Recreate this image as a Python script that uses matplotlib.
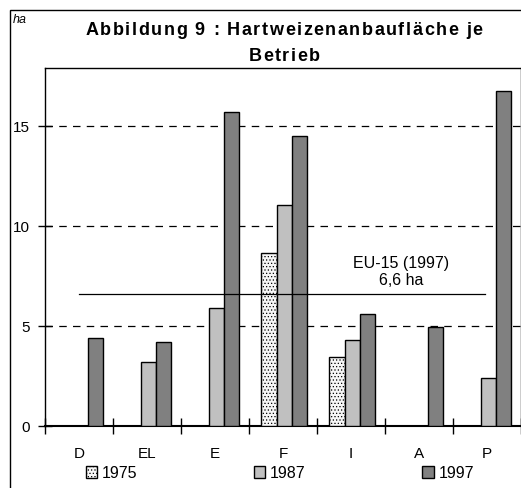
import matplotlib.pyplot as plt
import numpy as np
from matplotlib.patches import Rectangle
from matplotlib.font_manager import FontProperties

plt.rcParams['font.family'] = ['Liberation Sans', 'DejaVu Sans']
plt.rcParams['hatch.color'] = '#d0d0d0'
plt.rcParams['hatch.linewidth'] = 0.5

# data (ha per holding)
countries = ['D', 'EL', 'E', 'F', 'I', 'A', 'P']
years = ['1975', '1987', '1997']
vals_1975 = [0, 0, 0, 8.65, 3.45, 0, 0]
vals_1987 = [0, 3.18, 5.9, 11.07, 4.28, 0, 2.4]
vals_1997 = [4.42, 4.22, 15.7, 14.5, 5.62, 4.93, 16.77]
eu_avg = 6.6
title_lines = ['Abbildung 9 : Hartweizenanbaufläche je', 'Betrieb']

W, H = 521, 488
fig = plt.figure(figsize=(W / 100, H / 100), dpi=100)
ax = fig.add_axes([45 / W, 62 / H, 476 / W, 358 / H])

# outer frame of the figure
fig.patches.append(Rectangle((10 / W, -0.1), 1.2, 1.1 - 10 / H, transform=fig.transFigure,
                             fill=False, edgecolor='black', linewidth=1))

x = np.arange(len(countries))
w = 0.225
shift = 0.02
styles = [dict(color='#f6f6f6', hatch='.....'), dict(color='#c0c0c0'), dict(color='#808080')]
series = [vals_1975, vals_1987, vals_1997]
for i, (vals, st, yr) in enumerate(zip(series, styles, years)):
    vals = np.array(vals, dtype=float)
    mask = vals > 0
    ax.bar(x[mask] + (i - 1) * w + shift, vals[mask], width=w, facecolor=st['color'],
           hatch=st.get('hatch'), edgecolor='black', linewidth=1, label=yr, zorder=3)

ax.set_xlim(-0.5, 6.5)
ax.set_ylim(0, 17.9)
ax.set_yticks([0, 5, 10, 15])
ax.set_yticklabels(['0', '5', '10', '15'], fontsize=11)
for yv in [5, 10, 15]:
    ax.axhline(yv, color='black', linestyle=(0, (6, 5)), linewidth=0.9, zorder=1)

ax.set_xticks(x)
ax.set_xticklabels(countries, fontsize=11)
ax.set_xticks(np.arange(-0.5, 7, 1), minor=True)
ax.tick_params(axis='x', which='major', length=0, pad=15)
ax.tick_params(axis='x', which='minor', length=12, direction='inout', width=1)
ax.tick_params(axis='y', length=10, width=1, direction='inout', pad=6)

for s in ['left', 'top', 'right', 'bottom']:
    ax.spines[s].set_linewidth(1)
ax.spines['bottom'].set_linewidth(1.5)

# EU-15 average line
ax.plot([0.0, 5.97], [eu_avg, eu_avg], color='black', linewidth=0.9, zorder=4)
ax.text(4.74, eu_avg + 0.3, 'EU-15 (1997)\n6,6 ha', ha='center', va='bottom', fontsize=11.5,
        linespacing=1.15, zorder=5)

# title with wide letter spacing, like the original
tsize = 13
tprop = FontProperties(family='Liberation Sans', weight='bold', size=tsize)
renderer = fig.canvas.get_renderer()


def width(s):
    return renderer.get_text_width_height_descent(s, tprop, ismath=False)[0]


def advances(s):
    base = width('xx')
    return [width('x' + c + 'x') - base for c in s]


adv1 = advances(title_lines[0])
gap = (397 - sum(adv1)) / (len(title_lines[0]) - 1)
for line, base in zip(title_lines, [35, 61]):
    adv = advances(line)
    total = sum(adv) + gap * (len(line) - 1)
    xp = 284 - total / 2
    for c, a in zip(line, adv):
        fig.text(xp / W, 1 - base / H, c, ha='left', va='baseline', fontproperties=tprop)
        xp += a + gap

fig.text(13 / W, 1 - 20 / H, 'ha', ha='left', va='center', fontsize=9, style='italic')

leg = fig.legend(loc='center', bbox_to_anchor=(280 / W, 1 - 473 / H), ncol=3, frameon=False,
                 fontsize=11.5, handlelength=0.7, handleheight=0.7, handletextpad=0.3,
                 columnspacing=7.3)

fig.savefig('out.png', dpi=100)
